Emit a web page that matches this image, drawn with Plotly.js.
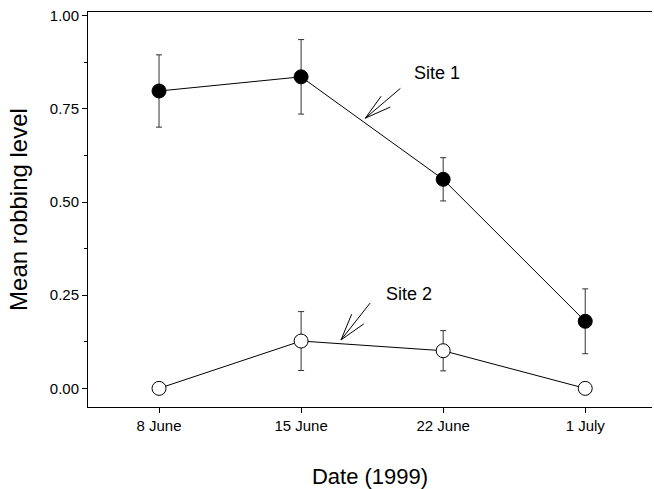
<!DOCTYPE html>
<html>
<head>
<meta charset="utf-8">
<script src="https://cdn.plot.ly/plotly-3.0.1.min.js"></script>
<style>html,body{margin:0;padding:0;background:#fff;}#chart{width:654px;height:489px;}</style>
</head>
<body>
<div id="chart"></div>
<script>
const dates = ["8 June", "15 June", "22 June", "1 July"];
const site1 = [0.798, 0.836, 0.561, 0.180];
const site1Err = [0.097, 0.100, 0.058, 0.087];
const site2 = [0.000, 0.127, 0.101, 0.000];
const site2Err = [0, 0.079, 0.054, 0];

const FONT = "Liberation Sans, Arial, sans-serif";

const traces = [
  {
    x: dates, y: site1, type: "scatter", mode: "lines+markers", name: "Site 1",
    line: {color: "#000", width: 1},
    marker: {symbol: "circle", size: 14, color: "#000", line: {color: "#000", width: 1}},
    error_y: {type: "data", array: site1Err, visible: true, color: "#333", thickness: 1, width: 3}
  },
  {
    x: dates, y: site2, type: "scatter", mode: "lines+markers", name: "Site 2",
    line: {color: "#000", width: 1},
    marker: {symbol: "circle", size: 14, color: "#fff", line: {color: "#000", width: 1}},
    error_y: {type: "data", array: site2Err, visible: true, color: "#333", thickness: 1, width: 3}
  }
];

// arrow helper (category index / data units)
function arrow(tip, tail, b1, b2) {
  const s = {type: "line", xref: "x", yref: "y", line: {color: "#000", width: 1}};
  return [
    Object.assign({}, s, {x0: tip[0], y0: tip[1], x1: tail[0], y1: tail[1]}),
    Object.assign({}, s, {x0: tip[0], y0: tip[1], x1: b1[0], y1: b1[1]}),
    Object.assign({}, s, {x0: tip[0], y0: tip[1], x1: b2[0], y1: b2[1]})
  ];
}

const shapes = [].concat(
  arrow([1.452, 0.725], [1.699, 0.805], [1.563, 0.784], [1.628, 0.755]),
  arrow([1.281, 0.130], [1.486, 0.229], [1.356, 0.199], [1.441, 0.173])
);

const layout = {
  width: 654, height: 489,
  margin: {l: 88, r: 2, t: 12, b: 82},
  paper_bgcolor: "#fff", plot_bgcolor: "#fff",
  showlegend: false,
  font: {family: FONT, color: "#000"},
  xaxis: {
    type: "category",
    range: [-0.5, 3.47],
    showgrid: false, zeroline: false,
    showline: true, linecolor: "#000", linewidth: 1, mirror: true,
    ticks: "outside", ticklen: 5, tickcolor: "#000",
    tickfont: {size: 15, family: FONT},
    title: {text: "Date (1999)", font: {size: 22, family: FONT}, standoff: 38}
  },
  yaxis: {
    range: [-0.05, 1.01],
    tickvals: [0, 0.25, 0.5, 0.75, 1.0],
    ticktext: ["0.00", "0.25", "0.50", "0.75", "1.00"],
    showgrid: false, zeroline: false,
    showline: true, linecolor: "#000", linewidth: 1,
    ticks: "outside", ticklen: 5, tickcolor: "#000",
    minor: {tickvals: [0.125, 0.375, 0.625, 0.875], ticks: "outside", ticklen: 3, tickcolor: "#000", showgrid: false},
    tickfont: {size: 15, family: FONT},
    title: {text: "Mean robbing level", font: {size: 24, family: FONT}, standoff: 15}
  },
  annotations: [
    {x: 1.956, y: 0.845, xref: "x", yref: "y", text: "Site 1", showarrow: false, font: {size: 18, family: FONT}},
    {x: 1.756, y: 0.252, xref: "x", yref: "y", text: "Site 2", showarrow: false, font: {size: 18, family: FONT}}
  ],
  shapes: shapes
};

Plotly.newPlot("chart", traces, layout, {displayModeBar: false, staticPlot: true});
</script>
</body>
</html>
